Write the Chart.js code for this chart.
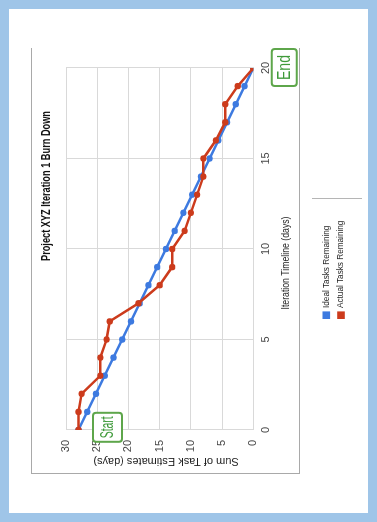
<!DOCTYPE html>
<html>
<head>
<meta charset="utf-8">
<script src="https://cdn.jsdelivr.net/npm/chart.js@4.4.1/dist/chart.umd.min.js"></script>
<style>
  html, body { margin: 0; padding: 0; }
  body { width: 377px; height: 522px; background: #9fc5e8; position: relative; overflow: hidden; }
  .paper { position: absolute; left: 9px; top: 9px; width: 359px; height: 504px; background: #fff; }
  .rule { position: absolute; background: #a9a9a9; }
  #rot { position: absolute; left: 0; top: 0; width: 425px; height: 335px;
         transform-origin: 0 0; transform: translate(31px, 473px) rotate(-90deg); }
</style>
</head>
<body>
<div class="paper"></div>
<div class="rule" style="left:31px; top:48px; width:1px; height:426px;"></div>
<div class="rule" style="left:299px; top:48px; width:1px; height:426px;"></div>
<div class="rule" style="left:31px; top:473px; width:269px; height:1px;"></div>
<div class="rule" style="left:312px; top:198px; width:50px; height:1px; background:#b5b5b5;"></div>
<div id="rot"><canvas id="burn" width="425" height="335"></canvas></div>
<script>
// burn down data
const days = [0, 1, 2, 3, 4, 5, 6, 7, 8, 9, 10, 11, 12, 13, 14, 15, 16, 17, 18, 19, 20];
const idealRemaining = [28, 26.6, 25.2, 23.8, 22.4, 21, 19.6, 18.2, 16.8, 15.4, 14, 12.6, 11.2, 9.8, 8.4, 7, 5.6, 4.2, 2.8, 1.4, 0];
const actualRemaining = [28, 28, 27.5, 24.5, 24.5, 23.5, 23, 18.4, 15, 13, 13, 11, 10, 9, 8, 8, 6, 4.5, 4.5, 2.5, 0];
const seriesNames = ['Ideal Tasks Remaining', 'Actual Tasks Remaining'];
const dayTicks = [0, 5, 10, 15, 20];
const estimateTicks = [0, 5, 10, 15, 20, 25, 30];
const markerLabels = ['Start', 'End'];
const markerDays = [0, 20];

const chartTitle = 'Project XYZ Iteration 1 Burn Down';
const xTitle = 'Iteration Timeline (days)';
const yTitle = 'Sum of Task Estimates (days)';

const BLUE = '#3d7ae0';
const RED = '#cc3b1c';
const GREEN = '#5ea64b';
const FONT = "'Liberation Sans', Arial, sans-serif";

Chart.defaults.font.family = FONT;

const toPoints = (vals) => days.map((d, i) => ({ x: d, y: vals[i] }));

function roundBox(ctx, cx, cy, w, h, r) {
  const x = cx - w / 2, y = cy - h / 2;
  ctx.beginPath();
  ctx.moveTo(x + r, y);
  ctx.arcTo(x + w, y, x + w, y + h, r);
  ctx.arcTo(x + w, y + h, x, y + h, r);
  ctx.arcTo(x, y + h, x, y, r);
  ctx.arcTo(x, y, x + w, y, r);
  ctx.closePath();
}

// title, axis titles, legend and the Start/End boxes
const decorations = {
  id: 'decorations',
  afterDraw(chart) {
    const { ctx, chartArea: a, scales } = chart;
    ctx.save();
    ctx.textAlign = 'center';
    ctx.textBaseline = 'middle';

    ctx.fillStyle = '#111';
    ctx.font = 'bold 12px ' + FONT;
    ctx.fillText(chartTitle, a.left + 244, a.top - 19, 150);

    ctx.fillStyle = '#222';
    ctx.font = '11px ' + FONT;
    ctx.fillText(xTitle, a.left + 167, a.bottom + 33, 93);

    ctx.save();
    ctx.translate(a.left - 31, a.top + 100);
    ctx.rotate(-Math.PI / 2);
    ctx.fillText(yTitle, 0, 0);
    ctx.restore();

    // legend, one row per series
    const colors = chart.data.datasets.map(ds => ds.borderColor);
    ctx.textAlign = 'left';
    ctx.font = '8.2px ' + FONT;
    seriesNames.forEach((name, i) => {
      const rowY = a.bottom + 73 + i * 14.7;
      ctx.fillStyle = colors[i];
      ctx.fillRect(a.left + 111, rowY - 3.8, 7.6, 7.6);
      ctx.fillStyle = '#222';
      ctx.fillText(name, a.left + 122, rowY);
    });

    // Start / End callouts
    ctx.textAlign = 'center';
    ctx.font = '18px ' + FONT;
    markerLabels.forEach((label, i) => {
      const px = scales.x.getPixelForValue(markerDays[i]);
      const start = i === 0;
      const cx = start ? px + 2.7 : px + 0.5;
      const cy = start ? a.top + 41.5 : a.bottom + 31;
      const w = start ? 29 : 37;
      const h = start ? 29 : 25;
      roundBox(ctx, cx, cy, w, h, 3);
      ctx.fillStyle = '#fff';
      ctx.fill();
      ctx.lineWidth = 2;
      ctx.strokeStyle = GREEN;
      ctx.stroke();
      ctx.fillStyle = '#3f9a3a';
      ctx.fillText(label, cx, cy + 1, start ? 22 : 25);
    });
    ctx.restore();
  }
};

new Chart(document.getElementById('burn'), {
  type: 'line',
  data: {
    datasets: [
      {
        label: seriesNames[0],
        data: toPoints(idealRemaining),
        borderColor: BLUE,
        backgroundColor: BLUE,
        order: 1,
      },
      {
        label: seriesNames[1],
        data: toPoints(actualRemaining),
        borderColor: RED,
        backgroundColor: RED,
        order: 0,
      },
    ],
  },
  options: {
    responsive: false,
    animation: false,
    devicePixelRatio: 1,
    layout: { padding: { left: 0, top: 35, right: 20, bottom: 0 } },
    elements: {
      line: { borderWidth: 2.5, tension: 0 },
      point: { radius: 3.2, borderWidth: 0 },
    },
    plugins: {
      legend: { display: false },
      tooltip: { enabled: false },
      title: { display: false },
    },
    scales: {
      x: {
        type: 'linear',
        min: 0,
        max: 20,
        afterBuildTicks: (scale) => { scale.ticks = dayTicks.map(v => ({ value: v })); },
        afterFit: (scale) => { scale.height = 112.7; },
        ticks: { color: '#444', font: { size: 11 }, padding: 6, maxRotation: 0 },
        grid: { color: '#d9d9d9', drawTicks: false },
        border: { color: '#d9d9d9' },
      },
      y: {
        min: 0,
        max: 30,
        afterBuildTicks: (scale) => { scale.ticks = estimateTicks.map(v => ({ value: v })); },
        afterFit: (scale) => { scale.width = 43; },
        ticks: { color: '#444', font: { size: 11 }, padding: 10 },
        grid: { color: '#d9d9d9', drawTicks: false },
        border: { color: '#d9d9d9' },
      },
    },
  },
  plugins: [decorations],
});
</script>
</body>
</html>
